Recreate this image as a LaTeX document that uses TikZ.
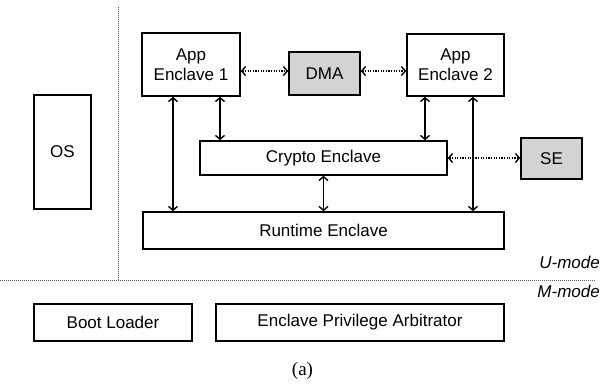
\documentclass[tikz,border=0pt]{standalone}
\usepackage{fontspec}
\setmainfont{Liberation Sans}
\newfontfamily\capfont{Liberation Serif}
\usetikzlibrary{arrows.meta}
\definecolor{boxgray}{HTML}{D3D3D3}
\definecolor{sepgray}{HTML}{606060}
\tikzset{
  blk/.style={draw=black, line width=1.4pt, rectangle, inner sep=0pt, align=center,
    font=\fontsize{17}{20}\selectfont},
  gblk/.style={blk, fill=boxgray},
  link/.style={line width=1.4pt, {Straight Barb[length=4pt,width=9pt]}-{Straight Barb[length=4pt,width=9pt]}},
  dlink/.style={link, dash pattern=on 1.3pt off 1.3pt},
  sep/.style={draw=sepgray, line width=1pt, dash pattern=on 1pt off 1pt},
  modelbl/.style={font=\fontsize{17}{20}\selectfont\itshape, anchor=east, inner sep=0pt}
}
\begin{document}
\begin{tikzpicture}[x=1pt,y=-1pt]
\useasboundingbox (0,0) rectangle (600,385);
% separators
\coordinate (vtop) at (118,7);
\coordinate (vbot) at (118,280);
\coordinate (hl) at (0,280);
\coordinate (hr) at (596,280);
\draw[sep] (vtop) -- (vbot);
\draw[sep] (hl) -- (hr);
% boxes
\node[blk, minimum width=98pt, minimum height=63pt] (app1) at (191,64.5) {App\\Enclave 1};
\node[gblk, minimum width=71pt, minimum height=43pt] (dma) at (324.5,73.5) {DMA};
\node[blk, minimum width=97pt, minimum height=62pt] (app2) at (455.5,65) {App\\Enclave 2};
\node[blk, minimum width=247pt, minimum height=34pt] (crypto) at (323.5,158) {Crypto Enclave};
\node[gblk, minimum width=61pt, minimum height=41pt] (se) at (551.5,158.5) {SE};
\node[blk, minimum width=361pt, minimum height=37pt] (runtime) at (323.5,230.5) {Runtime Enclave};
\node[blk, minimum width=57pt, minimum height=114pt] (os) at (62.5,152) {OS};
\node[blk, minimum width=158pt, minimum height=37pt] (boot) at (113,322.5) {Boot Loader};
\node[blk, minimum width=288pt, minimum height=37pt] (epa) at (360,322.5) {Enclave Privilege Arbitrator};
% mode labels
\node[modelbl] (umode) at (600,262) {U-mode};
\node[modelbl] (mmode) at (600,291) {M-mode};
% caption
\node[font=\fontsize{19}{22}\capfont, inner sep=0pt] (cap) at (302.5,371) {(a)};
% solid links
\draw[link] ([xshift=-18pt]app1.south) -- ([xshift=-18pt]app1.south |- runtime.north);
\draw[link] ([xshift=29pt]app1.south) -- ([xshift=29pt]app1.south |- crypto.north);
\draw[link] ([xshift=-30.5pt]app2.south) -- ([xshift=-30.5pt]app2.south |- crypto.north);
\draw[link] ([xshift=17.5pt]app2.south) -- ([xshift=17.5pt]app2.south |- runtime.north);
\draw[link] (crypto.south) -- (crypto.south |- runtime.north);
% dotted links
\draw[dlink] (app1.east |- 0,71) -- (dma.west |- 0,71);
\draw[dlink] (dma.east |- 0,71) -- (app2.west |- 0,71);
\draw[dlink] (crypto.east) -- (se.west |- crypto.east);
\end{tikzpicture}
\end{document}
